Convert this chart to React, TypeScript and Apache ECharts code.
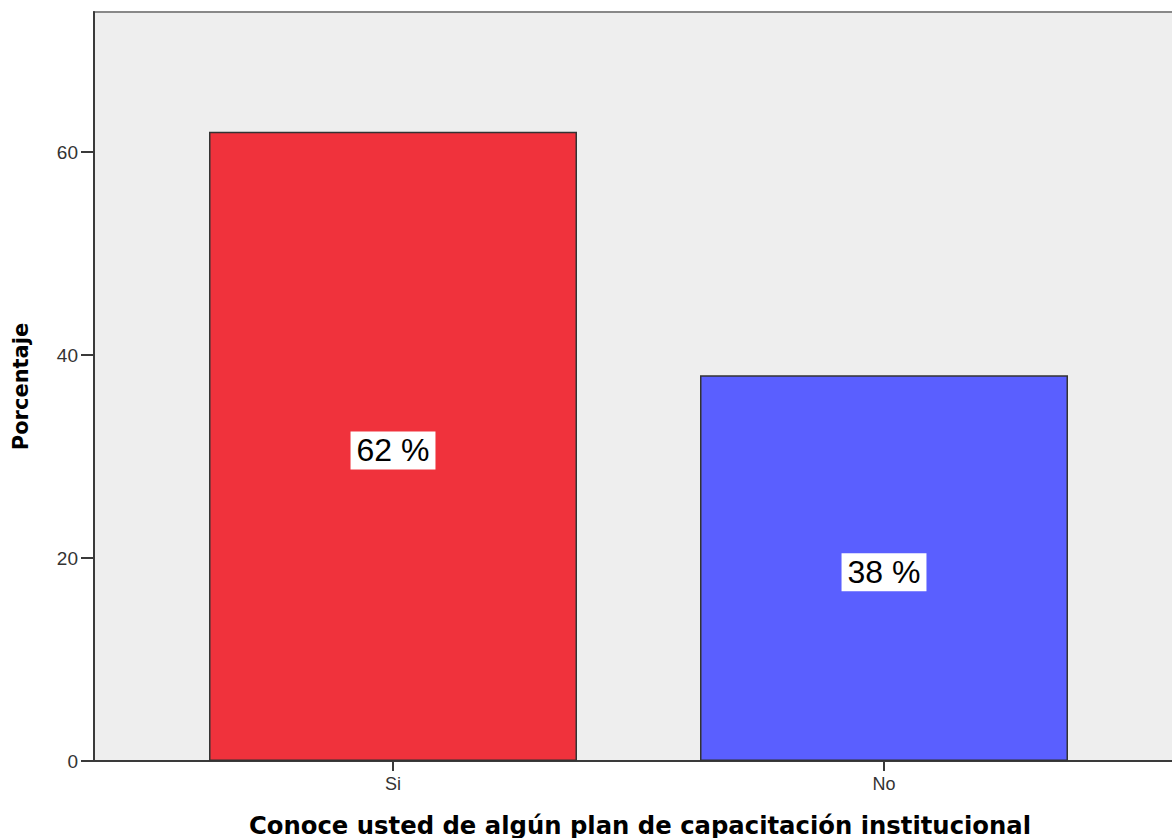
import React, { useEffect, useRef } from "react";
import * as echarts from "echarts";

const categories = ["Si", "No"];
const percentages = [62, 38];
const barColors = ["#F0323C", "#5A5FFF"];
const yTickValues = [0, 20, 40, 60];
const yMax = 73.8;
const xTitle = "Conoce usted de algún plan de capacitación institucional";
const yTitle = "Porcentaje";

// Layout (pixels)
const W = 1172;
const H = 838;
const plotLeft = 94;
const plotRight = 1174;
const plotTop = 12;
const plotBottom = 761;
const firstCenter = 393;
const secondCenter = 884;
const unitPx = secondCenter - firstCenter;
const xMin = 1 - (firstCenter - plotLeft) / unitPx;
const xMax = 2 + (plotRight - secondCenter) / unitPx;

export default function App() {
  const ref = useRef<HTMLDivElement>(null);
  useEffect(() => {
    if (!ref.current) return;
    const chart = echarts.init(ref.current, null, { renderer: "svg" });
    const positions = categories.map((_, i) => i + 1);
    chart.setOption({
      animation: false,
      backgroundColor: "#ffffff",
      grid: {
        left: plotLeft,
        right: W - plotRight,
        top: plotTop,
        bottom: H - plotBottom,
        containLabel: false,
        outerBoundsMode: "none",
        show: true,
        backgroundColor: "#EEEEEE",
        borderColor: "#888888",
        borderWidth: 2,
      },
      xAxis: {
        type: "value",
        min: xMin,
        max: xMax,
        splitLine: { show: false },
        axisLine: { show: true, lineStyle: { color: "#3a3a3a", width: 2 } },
        axisTick: {
          show: true,
          length: 10,
          customValues: positions,
          lineStyle: { color: "#3a3a3a", width: 2 },
        },
        axisLabel: {
          customValues: positions,
          margin: 14,
          fontFamily: "Liberation Sans",
          fontSize: 18,
          color: "#333333",
          formatter: (v: number) => categories[Math.round(v) - 1] ?? "",
        },
        name: xTitle,
        nameLocation: "middle",
        nameGap: 52,
        nameTextStyle: {
          fontFamily: "DejaVu Sans",
          fontWeight: "bold",
          fontSize: 24.3,
          color: "#000000",
          padding: [0, 0, 0, 12],
        },
      },
      yAxis: {
        type: "value",
        min: 0,
        max: yMax,
        interval: 20,
        splitLine: { show: false },
        axisLine: { show: true, lineStyle: { color: "#3a3a3a", width: 2 } },
        axisTick: {
          show: true,
          length: 13,
          customValues: yTickValues,
          lineStyle: { color: "#3a3a3a", width: 2 },
        },
        axisLabel: {
          customValues: yTickValues,
          margin: 16,
          fontFamily: "Liberation Sans",
          fontSize: 19,
          color: "#333333",
        },
        name: yTitle,
        nameLocation: "middle",
        nameGap: 63,
        nameTextStyle: {
          fontFamily: "DejaVu Sans",
          fontWeight: "bold",
          fontSize: 21,
          color: "#000000",
        },
      },
      series: [
        {
          type: "bar",
          barWidth: 368,
          data: percentages.map((v, i) => ({
            value: [positions[i], v],
            itemStyle: {
              color: barColors[i],
              borderColor: "#333333",
              borderWidth: 1.5,
            },
          })),
          label: {
            show: true,
            position: "inside",
            offset: [0, 4],
            formatter: (p: any) => `${p.value[1]} %`,
            fontFamily: "Liberation Sans",
            fontSize: 32,
            color: "#000000",
            backgroundColor: "#ffffff",
            padding: [3, 6, 3, 6],
          },
        },
      ],
    });
    return () => chart.dispose();
  }, []);
  return (
    <div
      ref={ref}
      style={{ position: "absolute", left: 0, top: 0, width: W, height: H }}
    />
  );
}
